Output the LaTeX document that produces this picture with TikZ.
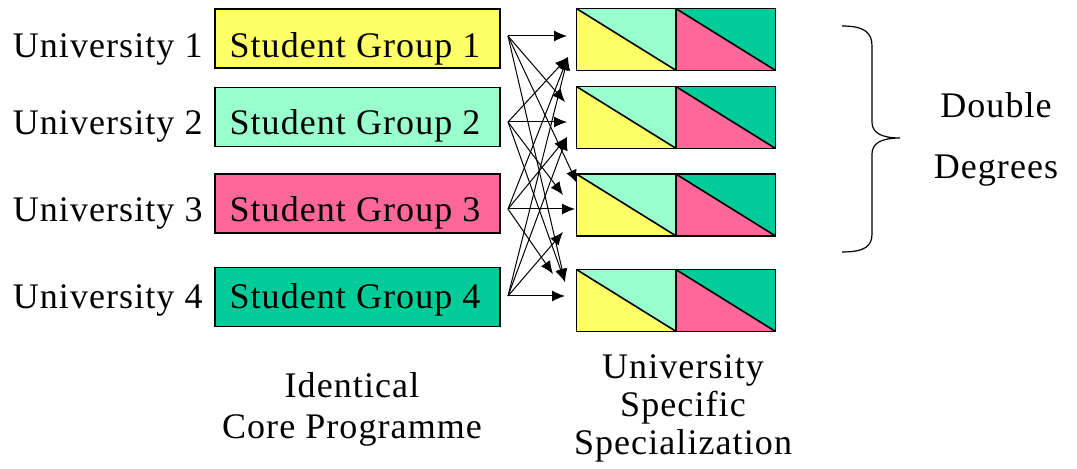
\documentclass[tikz,border=0pt]{standalone}
\usepackage{fontspec}
\setmainfont[LetterSpace=3]{Liberation Serif}
\usepackage{xcolor}
\usepackage{tikz}
\usetikzlibrary{arrows.meta,positioning}

\definecolor{grpyellow}{HTML}{FFFF66}
\definecolor{grpaqua}{HTML}{99FFCC}
\definecolor{grppink}{HTML}{FF6699}
\definecolor{grpgreen}{HTML}{00CC99}

\begin{document}
\begin{tikzpicture}[x=0.5pt,y=-0.5pt,
  lbl/.style={font={\fontsize{18}{20.5}\selectfont},inner sep=0pt},
  group/.style={draw=black,line width=0.6pt,minimum width=142.5pt,minimum height=29.5pt,inner sep=0pt},
  spec/.style={minimum width=99pt,minimum height=30.5pt,inner sep=0pt},
  link/.style={-{Latex[length=6.5pt,width=5.5pt]},line width=0.5pt}]
\useasboundingbox (0,0) rectangle (1077,469);

% Universities and their student groups
\foreach \i/\y/\base/\col in {1/38.5/58/grpyellow, 2/117/135/grpaqua, 3/203.5/222/grppink, 4/297/309/grpgreen} {
  \node[group,fill=\col] (g\i) at (357.5,\y) {};
  \node[lbl,anchor=base] (gt\i) at (355,\base) {Student Group \i};
  \node[lbl,anchor=base east] (u\i) at (203,\base) {University \i};
}

% Specialization boxes
\foreach \i/\y in {1/39.5, 2/117.5, 3/205, 4/300.5} {
  \node[spec] (sp\i) at (676,\y) {};
  \fill[grpaqua] (sp\i.north west) -- (sp\i.north) -- (sp\i.south) -- cycle;
  \fill[grpyellow] (sp\i.north west) -- (sp\i.south west) -- (sp\i.south) -- cycle;
  \fill[grpgreen] (sp\i.north) -- (sp\i.north east) -- (sp\i.south east) -- cycle;
  \fill[grppink] (sp\i.north) -- (sp\i.south) -- (sp\i.south east) -- cycle;
  \draw[line width=0.8pt] (sp\i.north west) rectangle (sp\i.south east);
  \draw[line width=0.8pt] (sp\i.north) -- (sp\i.south)
    (sp\i.north west) -- (sp\i.south) (sp\i.north) -- (sp\i.south east);
}

% Arrow ends
\foreach \n/\y in {1/36, 2/122, 3/209, 4/296}
  \coordinate (s\n) at (508,\y);
\coordinate (t1) at (567,36);
\coordinate (t1b) at (568,57);
\coordinate (t2a) at (565,102);
\coordinate (t2) at (567,122);
\coordinate (t2b) at (567,137);
\coordinate (t3a) at (577,183);
\coordinate (t3c) at (563,195);
\coordinate (t3) at (575,209);
\coordinate (t3b) at (563,232);
\coordinate (t4c) at (553,274);
\coordinate (t4a) at (565,282);
\coordinate (t4) at (565,296);

% Every group to every specialization
\foreach \s/\t in {s1/t1, s1/t2a, s1/t3a, s1/t4a,
                   s2/t1b, s2/t2, s2/t3c, s2/t4a,
                   s3/t1b, s3/t2b, s3/t3, s3/t4c,
                   s4/t1b, s4/t2b, s4/t3b, s4/t4}
  \draw[link] (\s) -- (\t);

% Brace and double degrees
\draw[line width=0.6pt] (842,26) .. controls (865,26) and (872,33) .. (872,46)
  -- (872,122) .. controls (872,132) and (880,138) .. (900,138)
  .. controls (880,138) and (872,144) .. (872,154)
  -- (872,234) .. controls (872,246) and (865,252) .. (842,252);
\node[lbl,align=center,font={\fontsize{18}{30.5}\selectfont}] (dd) at (996,139) {Double\\Degrees};

% Bottom captions
\node[lbl,align=center] (core) at (352,409) {Identical\\Core Programme};
\node[lbl,align=center,font={\fontsize{18}{19}\selectfont}] (uss) at (683,408) {University\\Specific\\Specialization};
\end{tikzpicture}
\end{document}
